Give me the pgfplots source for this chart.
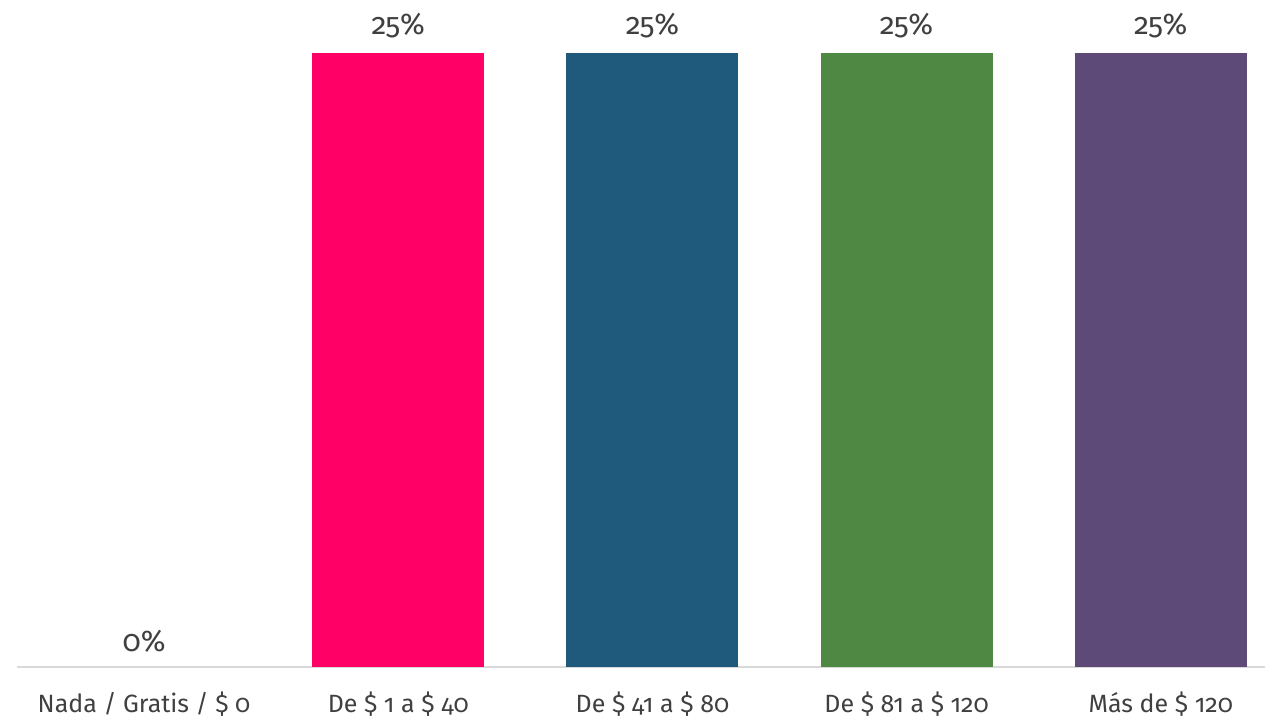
\documentclass[border=0pt]{standalone}
\usepackage{pgfplots}
\pgfplotsset{compat=1.18}
\usepackage{fontspec}
\setmainfont{Fira Sans}[Numbers=OldStyle]
\definecolor{txt}{HTML}{404040}
\definecolor{c1}{HTML}{FF0066}
\definecolor{c2}{HTML}{1F5A7D}
\definecolor{c3}{HTML}{4F8842}
\definecolor{c4}{HTML}{5E4A79}
\definecolor{ax}{HTML}{D9D9D9}
\begin{document}
\begin{tikzpicture}
\path[use as bounding box] (-8.5pt,-25.5pt) rectangle (624pt,333.5pt);
\begin{axis}[
  at={(0,0)}, anchor=south west,
  scale only axis, width=624pt, height=333.5pt,
  xmin=-0.5, xmax=4.41, ymin=0, ymax=27.16,
  axis y line=none, axis x line*=bottom,
  x axis line style={ax, line width=0.8pt, -},
  xtick={0,1,2,3,4},
  xticklabels={Nada / Gratis / \$ 0, De \$ 1 a \$ 40, De \$ 41 a \$ 80, De \$ 81 a \$ 120, Más de \$ 120},
  major tick length=0pt,
  xticklabel style={text=txt, font=\fontsize{12.5}{13}\selectfont, yshift=-9pt},
  /pgf/number format/assume math mode=true,
  ybar, bar width=86pt, bar shift=0pt,
  nodes near coords={\pgfmathprintnumber{\pgfplotspointmeta}\%},
  nodes near coords style={text=txt, font=\fontsize{15}{16}\selectfont, yshift=4pt},
  clip=false,
]
\addplot[draw=none, fill=none] coordinates {(0,0)};
\addplot[draw=none, fill=c1] coordinates {(1,25)};
\addplot[draw=none, fill=c2] coordinates {(2,25)};
\addplot[draw=none, fill=c3] coordinates {(3,25)};
\addplot[draw=none, fill=c4] coordinates {(4,25)};
\end{axis}
\end{tikzpicture}
\end{document}
